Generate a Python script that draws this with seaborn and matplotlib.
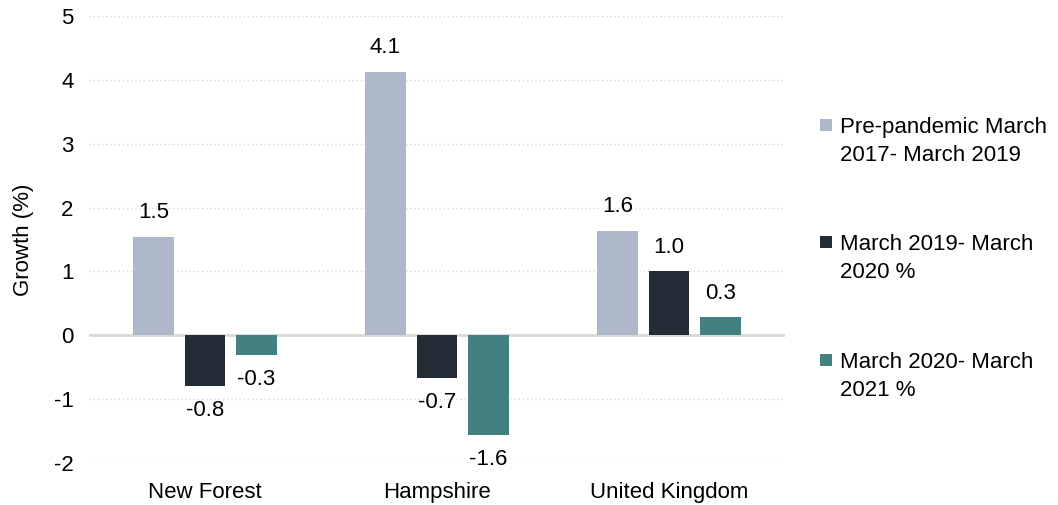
import matplotlib
matplotlib.use("Agg")
import matplotlib.pyplot as plt
import seaborn as sns
import pandas as pd
from matplotlib.patches import Rectangle

regions = ["New Forest", "Hampshire", "United Kingdom"]
periods = ["Pre-pandemic March\n2017- March 2019",
           "March 2019- March\n2020 %",
           "March 2020- March\n2021 %"]
pre_pandemic = [1.54, 4.13, 1.63]
y2019_2020 = [-0.80, -0.67, 1.00]
y2020_2021 = [-0.31, -1.56, 0.28]
colors = ["#ADB9CA", "#232B37", "#44807F"]
yticks = [-2, -1, 0, 1, 2, 3, 4, 5]

rows = []
for series, vals in zip(periods, [pre_pandemic, y2019_2020, y2020_2021]):
    for r, v in zip(regions, vals):
        rows.append({"region": r, "period": series, "value": v})
df = pd.DataFrame(rows)

sns.set_theme(style="white")
plt.rcParams["font.family"] = ["Liberation Sans", "DejaVu Sans"]
FS = 16

fig = plt.figure(figsize=(10.58, 5.05), dpi=100)
ax = fig.add_axes([89 / 1058, 1 - 463 / 505, (785 - 89) / 1058, (463 - 16) / 505])

sns.barplot(data=df, x="region", y="value", hue="period", order=regions,
            hue_order=periods, palette=colors, saturation=1, width=0.667, gap=0.22,
            errorbar=None, linewidth=0, ax=ax, legend=False)

for c in ax.containers:
    ax.bar_label(c, fmt="%.1f", padding=10, fontsize=FS, color="#000000")

ax.set_ylim(-2, 5)
ax.set_xlim(-0.5, 2.5)
ax.set_yticks(yticks)
ax.set_yticklabels([str(t) for t in yticks])
for t in yticks:
    if t == 0:
        ax.axhline(0, color="#D9D9D9", lw=2, zorder=0.5)
    else:
        ax.axhline(t, color="#D9D9D9", lw=1, ls=(0, (1, 2)), zorder=0)
for s in ax.spines.values():
    s.set_visible(False)
ax.tick_params(axis="both", length=0, labelsize=FS, colors="#000000")
ax.tick_params(axis="y", pad=11)
ax.tick_params(axis="x", pad=14)
ax.set_xlabel("")
ax.set_ylabel("Growth (%)", fontsize=FS, color="#000000", labelpad=14)

# legend
leg_y = [125, 242, 360]
for col, lab, yy in zip(colors, periods, leg_y):
    fig.patches.append(Rectangle((820 / 1058, 1 - (yy + 6) / 505), 12 / 1058, 12 / 505,
                                 transform=fig.transFigure, color=col, lw=0))
    fig.text(840 / 1058, 1 - (yy - 8) / 505, lab, fontsize=FS, va="top", ha="left",
             linespacing=1.45, color="#000000")

fig.savefig("out.png", dpi=100, facecolor="white")
